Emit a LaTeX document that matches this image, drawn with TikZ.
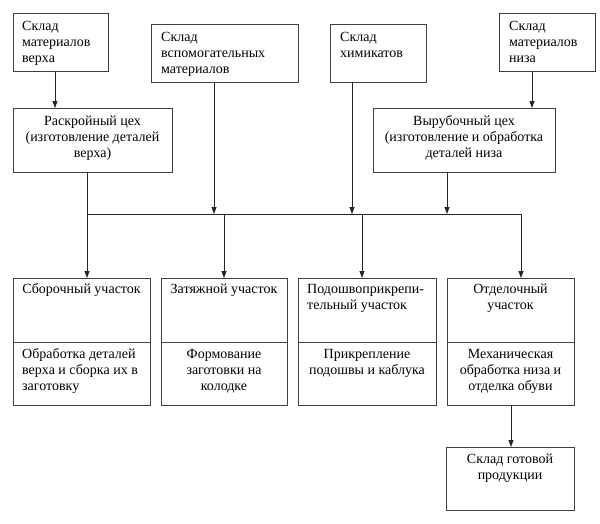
\documentclass[tikz,border=0pt]{standalone}
\usepackage{fontspec}
\setmainfont{Liberation Serif}
\usetikzlibrary{arrows.meta}
\begin{document}
\begin{tikzpicture}[x=1pt,y=-1pt,
  box/.style={draw=black!75, line width=0.8pt, inner sep=0pt, outer sep=0pt, anchor=north west},
  txt/.style={inner sep=0pt, font=\fontsize{14}{16}\selectfont},
  tl/.style={txt, anchor=north west, align=left},
  tc/.style={txt, anchor=north, align=center},
  ln/.style={line width=0.8pt, draw=black!85},
  arr/.style={ln, -{Triangle[width=5pt,length=7pt]}}]
\useasboundingbox (0,0) rectangle (600,523);
% boxes
\node[box, minimum width=95, minimum height=58] (skv) at (13,13) {};
\node[box, minimum width=147, minimum height=58] (vsp) at (151,24) {};
\node[box, minimum width=96, minimum height=58] (him) at (330,24) {};
\node[box, minimum width=96, minimum height=58] (niz) at (499,13) {};
\node[box, minimum width=159, minimum height=64] (rask) at (13,108) {};
\node[box, minimum width=182, minimum height=64] (vyr) at (373,108) {};
\node[box, minimum width=137, minimum height=64] (sbor) at (13,278) {};
\node[box, minimum width=137, minimum height=63] (sborB) at (13,342) {};
\node[box, minimum width=126, minimum height=64] (zat) at (161,278) {};
\node[box, minimum width=126, minimum height=63] (zatB) at (161,342) {};
\node[box, minimum width=138, minimum height=64] (pod) at (298,278) {};
\node[box, minimum width=138, minimum height=63] (podB) at (298,342) {};
\node[box, minimum width=127, minimum height=64] (otd) at (447,278) {};
\node[box, minimum width=127, minimum height=63] (otdB) at (447,342) {};
\node[box, minimum width=128, minimum height=63] (gotov) at (446,447) {};
% texts
\node[tl] (tskv) at (22,19) {\strut Склад\\материалов\\верха};
\node[tl] (tvsp) at (161,30) {\strut Склад\\вспомогательных\\материалов};
\node[tl] (thim) at (340,30) {\strut Склад\\химикатов};
\node[tl] (tniz) at (509,19) {\strut Склад\\материалов\\низа};
\node[tc] (trask) at (92.5,114) {\strut Раскройный цех\\(изготовление деталей\\верха)};
\node[tc] (tvyr) at (464,114) {\strut Вырубочный цех\\(изготовление и обработка\\деталей низа};
\node[tc] (tsbor) at (81.5,282) {\strut Сборочный участок};
\node[tl] (tsborB) at (22,347) {\strut Обработка деталей\\верха и сборка их в\\заготовку};
\node[tc] (tzat) at (224,282) {\strut Затяжной участок};
\node[tc] (tzatB) at (224,347) {\strut Формование\\заготовки на\\колодке};
\node[tl] (tpod) at (307,282) {\strut Подошвоприкрепи-\\тельный участок};
\node[tc] (tpodB) at (367,347) {\strut Прикрепление\\подошвы и каблука};
\node[tc] (totd) at (510.5,282) {\strut Отделочный\\участок};
\node[tc] (totdB) at (510.5,347) {\strut Механическая\\обработка низа и\\отделка обуви};
\node[tc] (tgot) at (510,452) {\strut Склад готовой\\продукции};
% connector x positions
\coordinate (xa) at (55,0);
\coordinate (xb) at (87,0);
\coordinate (xc) at (214,0);
\coordinate (xd) at (224,0);
\coordinate (xe) at (352,0);
\coordinate (xf) at (362,0);
\coordinate (xg) at (447,0);
\coordinate (xi) at (532,0);
\coordinate (xj) at (511,0);
\coordinate (busL) at (87,214);
\coordinate (busR) at (521,214);
% connectors
\draw[arr] (skv.south -| xa) -- (rask.north -| xa);
\draw[arr] (niz.south -| xi) -- (vyr.north -| xi);
\draw[arr] (rask.south -| xb) -- (sbor.north -| xb);
\draw[ln] (busL) -- (busR);
\draw[arr] (vsp.south -| xc) -- (busL -| xc);
\draw[arr] (him.south -| xe) -- (busL -| xe);
\draw[arr] (vyr.south -| xg) -- (busL -| xg);
\draw[arr] (busL -| xd) -- (zat.north -| xd);
\draw[arr] (busL -| xf) -- (pod.north -| xf);
\draw[arr] (busR) -- (otd.north -| busR);
\draw[arr] (otdB.south -| xj) -- (gotov.north -| xj);
\end{tikzpicture}
\end{document}
